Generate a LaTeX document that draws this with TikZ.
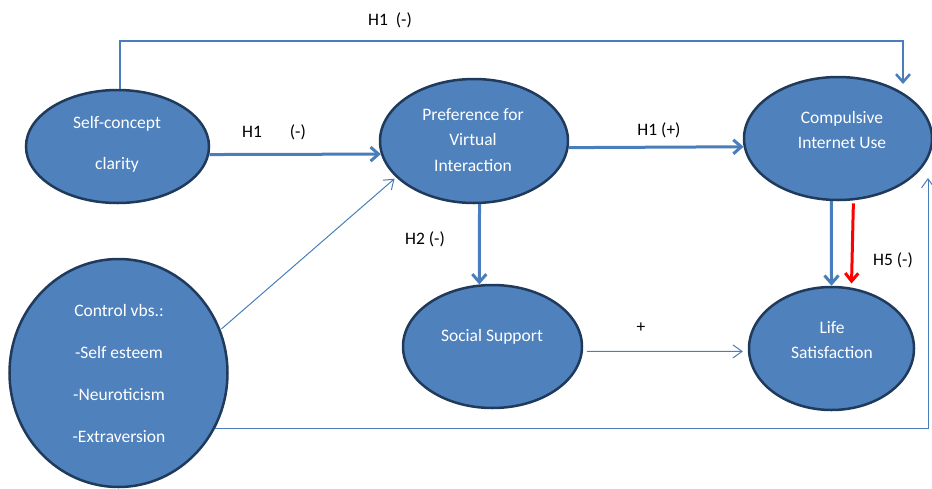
\documentclass[tikz,border=0pt]{standalone}
\usepackage{fontspec}
\setmainfont{Carlito}
\usetikzlibrary{shapes.geometric,arrows.meta}
\definecolor{ellfill}{RGB}{79,129,189}
\definecolor{ellborder}{RGB}{32,58,92}
\definecolor{arrblue}{RGB}{74,126,187}
\tikzset{
  ell/.style={ellipse, draw=ellborder, line width=2.5pt, fill=ellfill, inner sep=0pt},
  intext/.style={text=white, align=center, inner sep=0pt, font=\fontsize{17.5}{25.5}\selectfont},
  lbl/.style={text=black, inner sep=0pt, font=\fontsize{17.5}{21}\selectfont},
  thickarr/.style={draw=arrblue, line width=3pt, -{Straight Barb[length=8pt,width=14pt]}},
  toparr/.style={draw=arrblue, line width=2.5pt, -{Straight Barb[length=8pt,width=14pt]}},
  thinarr/.style={draw=arrblue, line width=1pt, -{Straight Barb[length=9pt,width=13pt]}},
  redarr/.style={draw=red, line width=3pt, -{Straight Barb[length=8pt,width=13pt]}}
}
\begin{document}
\begin{tikzpicture}[x=1pt,y=-1pt]
\useasboundingbox (0,0) rectangle (932,488);
% ellipses
\node[ell, minimum width=183pt, minimum height=113pt] (sc) at (117.5,146.5) {};
\node[ell, minimum width=188pt, minimum height=124pt] (pvi) at (474,141) {};
\node[ell, minimum width=188pt, minimum height=123pt] (cu) at (838,138.5) {};
\node[ell, minimum width=179pt, minimum height=123pt] (ss) at (492.5,346.5) {};
\node[ell, minimum width=165pt, minimum height=123pt] (ls) at (831.5,348.5) {};
\node[ell, minimum width=218pt, minimum height=228pt] (ctrl) at (118.5,373) {};
% texts inside
\node[intext] (scT1) at (117,124) {Self-concept};
\node[intext] (scT2) at (117,165) {clarity};
\node[intext] (pviT) at (473,140) {Preference for\\Virtual\\Interaction};
\node[intext] (cuT) at (842,130) {Compulsive\\Internet Use};
\node[intext] (lsT) at (832,340) {Life\\Satisfaction};
\node[intext] (ssT) at (492,337) {Social Support};
\node[intext, font=\fontsize{17.5}{42}\selectfont] (ctrlT) at (119,373) {Control vbs.:\\-Self esteem\\-Neuroticism\\-Extraversion};
% labels
\node[lbl] (l1) at (390,20) {H1\ \ (-)};
\node[lbl] (l2) at (274,132) {H1\hspace{28pt}(-)};
\node[lbl] (l3) at (659,130) {H1 (+)};
\node[lbl] (l4) at (425,239) {H2 (-)};
\node[lbl] (l5) at (641,328) {+};
\node[lbl] (l6) at (893,260) {H5 (-)};
% helper coordinates
\coordinate (tR) at (903,41);
\coordinate (tE) at (903,84);
\coordinate (cuR) at (928,178);
% connectors
\draw[toparr] ([xshift=2.5pt]sc.north) |- (tR) -- (tE);
\draw[thickarr] (sc.-5.3) -- (pvi.188.6);
\draw[thickarr] (pvi.-4.24) -- (cu.185.8);
\draw[thickarr] (pvi.-85.45) -- (ss.102.3);
\draw[thickarr] (cu.264.5) -- (ls.north);
\draw[redarr, shorten <=3pt, shorten >=4pt] (cu.-76.3) -- ([xshift=-2pt]cu.-76.3 |- ls.72.2);
\draw[thinarr, shorten <=1pt, shorten >=2pt] (ctrl.23.8) -- (pvi.-155.7);
\draw[thinarr, shorten <=4pt, shorten >=5pt] (ss.-3.5) -- (ls.182.4);
\draw[thinarr] (ctrl.-30.9) -| (cuR);
\end{tikzpicture}
\end{document}
